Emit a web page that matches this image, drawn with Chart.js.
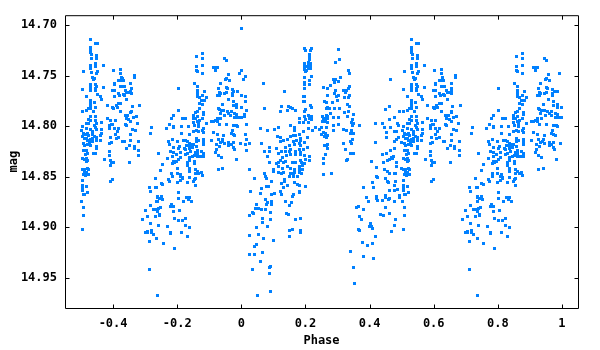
<!DOCTYPE html>
<html>
<head>
<meta charset="utf-8">
<style>html,body{margin:0;padding:0;background:#fff}canvas{display:block}</style>
<script src="https://cdn.jsdelivr.net/npm/chart.js@4/dist/chart.umd.min.js"></script>
</head>
<body>
<canvas id="c" width="600" height="350"></canvas>
<script>
const xTickValues = [-0.4, -0.2, 0, 0.2, 0.4, 0.6, 0.8, 1];
const xTickLabels = ["-0.4", "-0.2", "0", "0.2", "0.4", "0.6", "0.8", "1"];
const yTickValues = [14.70, 14.75, 14.80, 14.85, 14.90, 14.95];
const yTickLabels = ["14.70", "14.75", "14.80", "14.85", "14.90", "14.95"];
const xTitle = "Phase";
const yTitle = "mag";

const obsRiseUpper = [[0,14.703],[0,14.745],[.012,14.751],[.006,14.754],[.069,14.758],[.134,14.766],[.012,14.771],[0,14.770],[.012,14.775],[.072,14.782],[.016,14.784],[.009,14.788],[.009,14.790],[0,14.791],[.059,14.802],[.081,14.804],[.103,14.803],[.115,14.801],[.016,14.798],[.153,14.799],[.165,14.801],[.165,14.804],[.181,14.792],[.181,14.796],[.193,14.796],[.125,14.780],[.122,14.785],[.147,14.780],[.143,14.784],[.153,14.781],[.160,14.782],[.168,14.784],[.012,14.808],[.016,14.813],[.025,14.817],[.012,14.818],[.016,14.824]];
const obsPeakColumn = [[.196,14.723],[.200,14.725],[.218,14.723],[.215,14.725],[.214,14.729],[.212,14.731],[.212,14.734],[.196,14.738],[.209,14.737],[.215,14.738],[.196,14.741],[.203,14.741],[.209,14.740],[.215,14.741],[.196,14.744],[.203,14.745],[.209,14.743],[.215,14.743],[.200,14.746],[.218,14.751],[.212,14.755],[.196,14.752],[.196,14.757],[.196,14.759],[.212,14.759],[.196,14.763],[.193,14.771],[.196,14.771],[.193,14.775],[.196,14.775],[.215,14.779],[.218,14.781],[.200,14.783],[.196,14.785],[.209,14.789],[.218,14.790],[.196,14.790],[.200,14.793],[.212,14.792],[.218,14.793],[.209,14.796],[.209,14.802],[.193,14.805],[.231,14.801],[.222,14.804],[.243,14.803]];
const obsRiseMiddle = [[.112,14.810],[.122,14.811],[.131,14.814],[.122,14.815],[.143,14.813],[.153,14.810],[.162,14.809],[.168,14.809],[.181,14.808],[.184,14.812],[.172,14.814],[.162,14.815],[.184,14.814],[.206,14.811],[.062,14.817],[.087,14.821],[.072,14.825],[.087,14.825],[.081,14.830],[.087,14.836],[.109,14.822],[.125,14.825],[.137,14.821],[.149,14.819],[.165,14.818],[.184,14.819],[.181,14.817],[.196,14.816],[.206,14.821],[.181,14.823],[.193,14.823],[.153,14.823],[.137,14.825],[.149,14.825],[.168,14.825],[.184,14.826],[.116,14.827],[.140,14.829],[.153,14.828],[.184,14.828],[.196,14.829],[.212,14.830],[.128,14.831],[.168,14.828],[.200,14.833],[.122,14.834],[.131,14.836],[.137,14.835],[.116,14.836],[.109,14.837],[.158,14.836],[.168,14.836],[.184,14.834],[.187,14.836],[.196,14.837],[.212,14.834],[.116,14.840],[.100,14.843],[.100,14.845],[.128,14.842],[.143,14.840],[.153,14.842],[.165,14.843],[.181,14.840],[.191,14.839],[.181,14.843],[.191,14.843],[.165,14.846],[.181,14.846],[.131,14.846],[.116,14.846],[.125,14.847],[.072,14.847],[.025,14.843],[.187,14.847],[.153,14.847],[.162,14.847]];
const obsRiseLower = [[.041,14.852],[.075,14.850],[.078,14.852],[.094,14.855],[.149,14.850],[.162,14.850],[.174,14.850],[.134,14.853],[.134,14.855],[.125,14.857],[.165,14.856],[.174,14.858],[.181,14.859],[.200,14.860],[.143,14.859],[.131,14.861],[.062,14.862],[.078,14.860],[.084,14.860],[.028,14.865],[.059,14.867],[.122,14.865],[.125,14.868],[.103,14.867],[.094,14.868],[.162,14.868],[.158,14.870],[.181,14.865],[.181,14.866],[.075,14.873],[.094,14.875],[.094,14.877],[.081,14.876],[.078,14.877],[.137,14.875],[.156,14.876],[.149,14.878],[.047,14.877],[.044,14.881],[.053,14.881],[.062,14.882],[.075,14.882],[.034,14.885],[.037,14.886],[.025,14.888],[.090,14.885],[.140,14.886],[.147,14.887],[.065,14.891],[.090,14.892],[.168,14.892],[.184,14.891],[.065,14.895],[.081,14.899],[.047,14.900],[.149,14.903],[.158,14.902],[.184,14.903],[.184,14.905],[.025,14.908],[.053,14.907],[.069,14.911],[.149,14.909],[.100,14.913],[.047,14.917],[.041,14.919],[.025,14.927],[.041,14.927],[.065,14.925],[.059,14.934],[.090,14.939],[.087,14.940],[.034,14.942],[.087,14.946],[.050,14.968],[.090,14.964]];
const obsShoulderUpper = [[.303,14.724],[.293,14.737],[.306,14.734],[.334,14.745],[.337,14.748],[.310,14.752],[.287,14.754],[.293,14.754],[.290,14.757],[.303,14.756],[.278,14.760],[.256,14.762],[.270,14.763],[.337,14.761],[.334,14.763],[.318,14.765],[.327,14.765],[.293,14.765],[.290,14.768],[.270,14.770],[.303,14.770],[.296,14.771],[.324,14.767],[.337,14.770],[.321,14.772],[.334,14.772],[.259,14.775],[.265,14.776],[.284,14.776],[.300,14.774],[.331,14.778],[.337,14.780],[.270,14.781],[.267,14.782],[.274,14.782],[.290,14.782],[.306,14.782],[.334,14.785],[.321,14.786],[.349,14.788],[.278,14.787],[.253,14.790],[.265,14.789],[.270,14.790],[.303,14.791],[.331,14.790],[.287,14.791],[.259,14.792],[.256,14.793],[.268,14.792],[.262,14.795],[.253,14.795],[.268,14.796],[.346,14.793],[.349,14.797],[.343,14.796],[.346,14.799],[.368,14.799],[.287,14.799],[.303,14.798],[.250,14.801],[.265,14.801],[.256,14.806],[.250,14.808],[.262,14.807],[.287,14.804],[.318,14.803],[.327,14.804],[.343,14.804],[.340,14.807],[.349,14.807],[.259,14.810],[.265,14.811],[.270,14.809],[.318,14.817],[.346,14.813],[.340,14.815],[.343,14.817],[.259,14.819],[.265,14.819],[.270,14.818],[.270,14.822],[.324,14.823],[.262,14.828],[.340,14.827],[.349,14.827],[.256,14.832],[.327,14.834],[.331,14.833],[.256,14.837],[.256,14.848],[.281,14.847]];
const obsDipRise = [[.465,14.754],[.449,14.783],[.461,14.780],[.492,14.785],[.477,14.791],[.418,14.797],[.440,14.797],[.461,14.793],[.446,14.801],[.465,14.801],[.486,14.797],[.490,14.799],[.454,14.806],[.477,14.805],[.483,14.805],[.452,14.811],[.490,14.811],[.484,14.813],[.477,14.815],[.418,14.816],[.465,14.824],[.477,14.822],[.440,14.828],[.452,14.827],[.474,14.830],[.468,14.831],[.471,14.832],[.461,14.833],[.455,14.834],[.405,14.835],[.421,14.841],[.444,14.836],[.484,14.836],[.484,14.840],[.446,14.843],[.455,14.845],[.461,14.847],[.477,14.847],[.480,14.847]];
const obsDipLower = [[.380,14.861],[.408,14.856],[.412,14.861],[.421,14.850],[.424,14.851],[.449,14.852],[.455,14.855],[.458,14.856],[.477,14.859],[.480,14.855],[.461,14.864],[.477,14.864],[.486,14.863],[.390,14.871],[.396,14.875],[.421,14.870],[.421,14.872],[.424,14.874],[.440,14.874],[.449,14.869],[.449,14.871],[.458,14.873],[.461,14.872],[.477,14.875],[.493,14.869],[.493,14.871],[.380,14.882],[.358,14.880],[.365,14.879],[.449,14.880],[.434,14.887],[.443,14.888],[.463,14.886],[.482,14.892],[.368,14.889],[.374,14.892],[.402,14.896],[.399,14.899],[.405,14.899],[.408,14.901],[.477,14.898],[.467,14.904],[.365,14.902],[.368,14.903],[.418,14.909],[.377,14.915],[.393,14.918],[.408,14.916],[.340,14.924],[.380,14.929],[.412,14.931],[.349,14.940],[.352,14.956]];
const obsMainPeak = [[.530,14.714],[.546,14.718],[.552,14.718],[.530,14.722],[.530,14.724],[.530,14.727],[.533,14.729],[.549,14.730],[.549,14.733],[.533,14.733],[.571,14.740],[.530,14.740],[.546,14.738],[.530,14.743],[.533,14.747],[.546,14.741],[.552,14.746],[.549,14.748],[.508,14.746],[.536,14.752],[.542,14.753],[.539,14.754],[.530,14.759],[.530,14.761],[.530,14.763],[.530,14.765],[.546,14.759],[.549,14.761],[.546,14.763],[.546,14.765],[.505,14.764],[.552,14.769],[.571,14.762],[.561,14.771],[.564,14.773],[.518,14.771],[.530,14.774],[.530,14.777],[.530,14.779],[.542,14.776],[.546,14.781],[.530,14.782],[.505,14.785],[.518,14.784],[.524,14.782],[.539,14.785],[.530,14.790],[.546,14.790],[.524,14.793],[.546,14.794],[.530,14.794],[.564,14.796],[.549,14.797],[.518,14.797],[.524,14.797],[.505,14.800],[.518,14.802],[.530,14.803],[.542,14.799],[.546,14.801],[.549,14.803],[.564,14.803],[.502,14.804]];
const obsMainCore = [[.561,14.809],[.564,14.807],[.536,14.805],[.536,14.808],[.508,14.807],[.514,14.808],[.520,14.807],[.524,14.809],[.542,14.810],[.549,14.811],[.505,14.810],[.511,14.812],[.530,14.813],[.536,14.812],[.518,14.812],[.520,14.814],[.499,14.816],[.508,14.817],[.527,14.816],[.536,14.815],[.511,14.819],[.520,14.818],[.530,14.819],[.549,14.814],[.561,14.814],[.549,14.820],[.549,14.822],[.508,14.824],[.518,14.824],[.546,14.827],[.540,14.827],[.514,14.828],[.520,14.827],[.505,14.832],[.511,14.833],[.518,14.832],[.574,14.833],[.520,14.834],[.518,14.835],[.499,14.842],[.505,14.843],[.511,14.843],[.520,14.842],[.524,14.843],[.518,14.846],[.511,14.846],[.508,14.848],[.524,14.848],[.514,14.849],[.505,14.854],[.505,14.859],[.505,14.861],[.505,14.864],[.518,14.860],[.520,14.866],[.508,14.868],[.511,14.868],[.502,14.875],[.508,14.880],[.508,14.888],[.505,14.902]];
const obsSecondHump = [[.601,14.745],[.623,14.744],[.623,14.748],[.667,14.750],[.667,14.752],[.628,14.753],[.623,14.755],[.626,14.752],[.617,14.755],[.632,14.755],[.604,14.758],[.604,14.759],[.654,14.758],[.623,14.761],[.629,14.761],[.635,14.761],[.657,14.763],[.640,14.765],[.598,14.765],[.604,14.765],[.654,14.766],[.648,14.767],[.642,14.767],[.617,14.768],[.620,14.770],[.632,14.769],[.635,14.770],[.657,14.768],[.604,14.771],[.642,14.773],[.610,14.779],[.617,14.777],[.623,14.777],[.613,14.781],[.582,14.779],[.598,14.781],[.601,14.782],[.660,14.780],[.682,14.779],[.623,14.785],[.657,14.785],[.654,14.786],[.638,14.789],[.645,14.789],[.672,14.790],[.663,14.791],[.582,14.792],[.592,14.794],[.607,14.794],[.641,14.792],[.648,14.793],[.654,14.795],[.598,14.798],[.595,14.798],[.676,14.797],[.638,14.798],[.641,14.799],[.589,14.799],[.589,14.802],[.604,14.802],[.617,14.802],[.613,14.805],[.661,14.803],[.670,14.804],[.654,14.808],[.607,14.808],[.617,14.811],[.610,14.812],[.592,14.811],[.654,14.814],[.679,14.815],[.629,14.815],[.635,14.815],[.595,14.816],[.589,14.817],[.651,14.819],[.642,14.822],[.666,14.820],[.666,14.822],[.679,14.824],[.679,14.829],[.589,14.825],[.589,14.829],[.592,14.834],[.595,14.836],[.601,14.836],[.651,14.836],[.592,14.839],[.720,14.801],[.717,14.807],[.741,14.827],[.754,14.838],[.748,14.844],[.592,14.855],[.598,14.853]];
const obsSecondPeak = [[.859,14.731],[.878,14.728],[.878,14.733],[.859,14.741],[.859,14.745],[.862,14.746],[.878,14.740],[.878,14.748],[.912,14.742],[.918,14.742],[.925,14.742],[.918,14.745],[.947,14.733],[.953,14.735],[.959,14.749],[.993,14.748],[.950,14.754],[.953,14.753],[.962,14.755],[.934,14.758],[.853,14.758],[.862,14.761],[.803,14.763],[.928,14.763],[.953,14.762],[.956,14.763],[.862,14.765],[.862,14.768],[.884,14.766],[.931,14.767],[.934,14.768],[.947,14.768],[.953,14.767],[.971,14.764],[.971,14.768],[.977,14.766],[.987,14.766],[.925,14.770],[.931,14.770],[.862,14.771],[.878,14.770],[.890,14.772],[.868,14.772],[.875,14.774],[.884,14.774],[.959,14.773],[.975,14.775],[.971,14.770],[.868,14.777],[.878,14.778],[.941,14.778],[.985,14.778],[.985,14.781],[1,14.781],[.975,14.779],[.928,14.782],[.931,14.783],[.803,14.784],[.868,14.782],[.862,14.785],[.856,14.786],[.881,14.786],[.881,14.788],[.937,14.784],[.944,14.784],[.956,14.785],[.968,14.785],[.934,14.787],[.949,14.789],[.961,14.787],[.980,14.787],[.787,14.789],[.781,14.792],[.850,14.789],[.862,14.790],[.856,14.792],[.816,14.792],[.825,14.792],[.878,14.792],[.850,14.792],[.966,14.789],[.985,14.788],[.980,14.791],[.936,14.792],[.925,14.792],[.985,14.791],[.992,14.791],[.998,14.791],[.850,14.796],[.862,14.795],[.868,14.794],[.918,14.794],[.912,14.795],[.906,14.795],[.925,14.795],[.931,14.798],[.890,14.797],[.853,14.799],[.953,14.798],[.975,14.799],[.984,14.799],[.987,14.800]];
const obsSecondMiddle = [[.775,14.798],[.766,14.802],[.787,14.800],[.787,14.801],[.812,14.800],[.834,14.800],[.865,14.797],[.865,14.800],[.881,14.802],[.878,14.804],[.881,14.806],[.850,14.805],[.859,14.804],[.865,14.805],[.837,14.808],[.812,14.807],[.912,14.806],[.925,14.808],[.971,14.804],[.975,14.808],[.980,14.809],[.968,14.807],[.945,14.809],[.784,14.813],[.772,14.815],[.775,14.818],[.800,14.815],[.819,14.814],[.825,14.814],[.831,14.815],[.837,14.817],[.847,14.818],[.859,14.815],[.859,14.812],[.865,14.814],[.881,14.813],[.881,14.816],[.881,14.818],[.906,14.814],[.928,14.813],[.941,14.813],[.922,14.818],[.934,14.816],[.946,14.817],[.940,14.815],[.961,14.816],[.968,14.818],[.975,14.816],[.996,14.817],[.859,14.820],[.850,14.818],[.844,14.820],[.837,14.819],[.828,14.819],[.822,14.822],[.837,14.822],[.847,14.821],[.787,14.821],[.803,14.822],[.806,14.820],[.778,14.825],[.787,14.826],[.797,14.828],[.809,14.826],[.862,14.824],[.856,14.826],[.825,14.823],[.840,14.825],[.831,14.827],[.875,14.825],[.881,14.827],[.881,14.830],[.918,14.826],[.922,14.823],[.928,14.829],[.931,14.820],[.937,14.831],[.961,14.819],[.975,14.821],[.978,14.823],[.984,14.833]];
const obsSecondLow = [[.770,14.832],[.785,14.830],[.809,14.831],[.825,14.828],[.837,14.831],[.853,14.829],[.862,14.827],[.862,14.830],[.872,14.830],[.847,14.830],[.787,14.835],[.784,14.837],[.790,14.836],[.803,14.833],[.797,14.835],[.831,14.836],[.837,14.834],[.853,14.835],[.853,14.837],[.831,14.839],[.837,14.842],[.837,14.845],[.782,14.847],[.800,14.842],[.800,14.847],[.810,14.848],[.856,14.843],[.862,14.845],[.866,14.847],[.875,14.846],[.856,14.847],[.941,14.842],[.928,14.843]];
const obsSecondDip = [[.731,14.852],[.772,14.853],[.775,14.855],[.784,14.850],[.809,14.850],[.809,14.854],[.816,14.851],[.816,14.852],[.837,14.851],[.800,14.856],[.831,14.856],[.850,14.855],[.853,14.853],[.856,14.852],[.856,14.859],[.878,14.849],[.750,14.857],[.754,14.858],[.713,14.861],[.732,14.861],[.735,14.861],[.716,14.865],[.803,14.866],[.738,14.870],[.750,14.870],[.738,14.871],[.744,14.872],[.753,14.873],[.738,14.875],[.735,14.875],[.803,14.872],[.828,14.871],[.837,14.871],[.834,14.873],[.819,14.875],[.844,14.875],[.716,14.878],[.781,14.877],[.778,14.879],[.787,14.879],[.741,14.881],[.747,14.880],[.725,14.882],[.731,14.882],[.737,14.884],[.700,14.883],[.787,14.884],[.806,14.883],[.744,14.887],[.744,14.888],[.706,14.889],[.731,14.889],[.691,14.892],[.791,14.891],[.825,14.891],[.816,14.893],[.803,14.893],[.716,14.896],[.741,14.898],[.769,14.899],[.825,14.898],[.837,14.900],[.700,14.905],[.706,14.905],[.706,14.904],[.719,14.903],[.719,14.905],[.725,14.907],[.778,14.905],[.778,14.906],[.812,14.905],[.831,14.909],[.735,14.911],[.713,14.914],[.756,14.916],[.791,14.921],[.713,14.942],[.738,14.968]];

const allObservations = [obsRiseUpper, obsPeakColumn, obsRiseMiddle, obsRiseLower, obsShoulderUpper, obsDipRise, obsDipLower, obsMainPeak, obsMainCore, obsSecondHump, obsSecondPeak, obsSecondMiddle, obsSecondLow, obsSecondDip].flat();
const points = [];
allObservations.forEach(([p, m]) => {
  points.push({x: p, y: m});
  if (p >= 0.5) points.push({x: p - 1, y: m});
});

const fontSpec = {family: "'DejaVu Sans Mono', monospace", size: 12, weight: "bold"};

const frame = {
  id: "frame",
  beforeDatasetsDraw(chart) {
    chart.getDatasetMeta(0).data.forEach(el => {
      el.x = Math.round(el.x - 0.5) + 0.5;
      el.y = Math.round(el.y - 0.5) + 0.5;
    });
  },
  afterDraw(chart) {
    const {ctx, chartArea: a, scales} = chart;
    const L = a.left + 0.5, R = a.right + 0.5, T = a.top + 0.5, B = a.bottom + 0.5;
    const t = 4;
    ctx.save();
    ctx.strokeStyle = "#000";
    ctx.lineWidth = 1;
    ctx.beginPath();
    ctx.rect(L, T, R - L, B - T);
    xTickValues.forEach(v => {
      const x = Math.round(scales.x.getPixelForValue(v)) + 0.5;
      ctx.moveTo(x, B); ctx.lineTo(x, B - t);
      ctx.moveTo(x, T); ctx.lineTo(x, T + t);
    });
    yTickValues.forEach(v => {
      const y = Math.round(scales.y.getPixelForValue(v)) + 0.5;
      ctx.moveTo(L, y); ctx.lineTo(L + t, y);
      ctx.moveTo(R, y); ctx.lineTo(R - t, y);
    });
    ctx.stroke();
    ctx.restore();
  }
};

new Chart(document.getElementById("c"), {
  type: "scatter",
  data: {datasets: [{
    label: "mag",
    data: points,
    pointStyle: "rect",
    pointRadius: 2.13,
    pointBorderWidth: 0,
    pointBackgroundColor: "#0080ff",
    backgroundColor: "#0080ff"
  }]},
  options: {
    responsive: false,
    animation: false,
    layout: {padding: {top: 13, right: 22, left: 0, bottom: 0}},
    plugins: {legend: {display: false}, tooltip: {enabled: false}, title: {display: false}},
    scales: {
      x: {
        type: "linear", min: -0.55, max: 1.05,
        grid: {display: false, drawTicks: false},
        border: {display: false},
        afterBuildTicks: s => { s.ticks = xTickValues.map(v => ({value: v})); },
        afterFit: s => { s.height = 42; },
        ticks: {
          autoSkip: false, maxRotation: 0, padding: 9, color: "#000", font: fontSpec,
          callback: v => xTickLabels[xTickValues.indexOf(v)]
        },
        title: {display: true, text: xTitle, color: "#000", font: fontSpec, padding: {top: 0, bottom: 2}}
      },
      y: {
        type: "linear", reverse: true, min: 14.69, max: 14.98,
        grid: {display: false, drawTicks: false},
        border: {display: false},
        afterBuildTicks: s => { s.ticks = yTickValues.map(v => ({value: v})); },
        afterFit: s => { s.width = 65; },
        ticks: {
          autoSkip: false, padding: 8, color: "#000", font: fontSpec,
          callback: v => yTickLabels[yTickValues.indexOf(v)]
        },
        title: {display: true, text: yTitle, color: "#000", font: fontSpec, padding: {top: 7, bottom: 0}}
      }
    }
  },
  plugins: [frame]
});
</script>
</body>
</html>
